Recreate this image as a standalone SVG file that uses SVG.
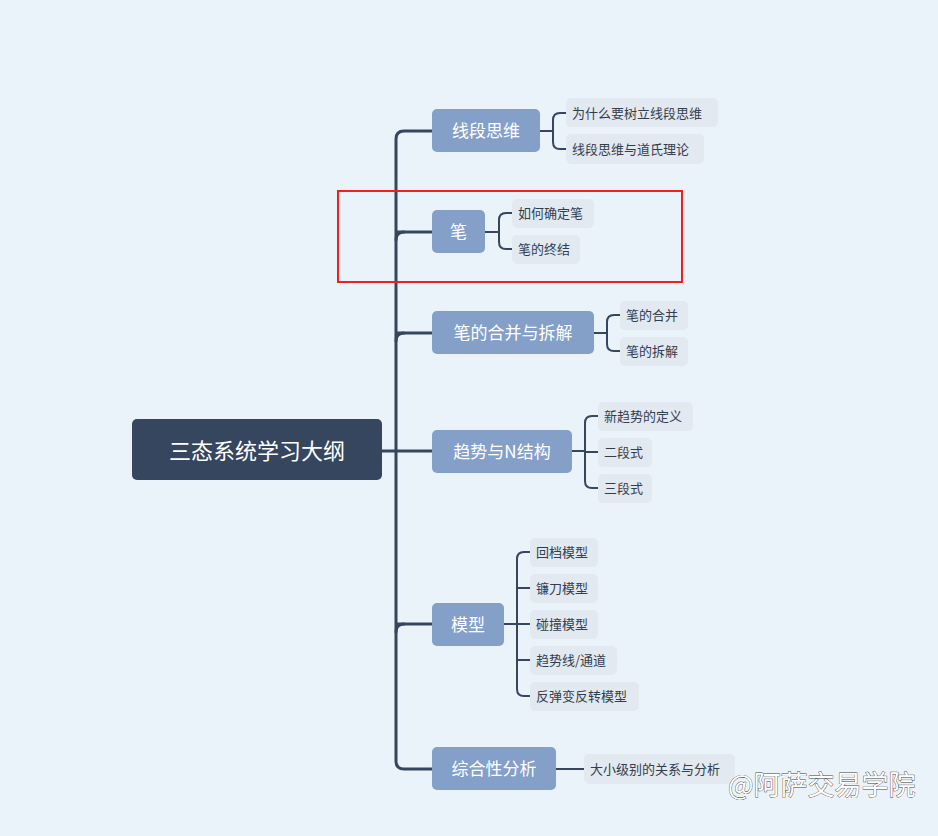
<svg xmlns="http://www.w3.org/2000/svg" width="938" height="836" viewBox="0 0 938 836">
<style>
.c{fill:none;stroke:#35465E;stroke-width:3;stroke-linecap:round}
.s{fill:none;stroke:#35465E;stroke-width:2;stroke-linecap:round}
.b{fill:#84A0C8}
.l{fill:#E2E9F1}
.bt{font-family:"Noto Sans CJK SC",sans-serif;font-size:17px;fill:#fff;text-anchor:middle;dominant-baseline:central}
.lt{font-family:"Noto Sans CJK SC",sans-serif;font-size:13px;fill:#333D4D;dominant-baseline:central}
</style>
<rect width="938" height="836" fill="#EBF3FA"/>
<g id="connectors">
<path class="c" d="M382 451H396M404 131Q396 131 396 139V761Q396 769 404 769H432M396 232H432M396 333H432M396 451H432M396 624H432M404 131H432" />
<path class="c" d="M396 240Q396 232 404 232M396 341Q396 333 404 333M396 632Q396 624 404 624"/>
<path class="s" d="M540 131H553M566 113H560Q553 113 553 120V142Q553 149 560 149H566"/>
<path class="s" d="M485 232H499M512 213H506Q499 213 499 220V242Q499 249 506 249H512"/>
<path class="s" d="M594 333H607M620 315H614Q607 315 607 322V344Q607 351 614 351H620"/>
<path class="s" d="M572 451H585M598 416H592Q585 416 585 423V481Q585 488 592 488H598M585 452H598"/>
<path class="s" d="M504 624H517M530 552H524Q517 552 517 559V689Q517 696 524 696H530M517 588H530M517 624H530M517 660H530"/>
<path class="s" d="M556 769H584"/>
</g>
<g id="root"><rect x="132" y="419" width="250" height="61" rx="5" fill="#35465E"/><text x="257" y="449" font-family="Noto Sans CJK SC,sans-serif" font-size="22" fill="#fff" text-anchor="middle" dominant-baseline="central">三态系统学习大纲</text></g>
<g id="b1"><rect class="b" x="432" y="109" width="108" height="43" rx="5"/><text class="bt" x="486" y="129">线段思维</text></g>
<g id="b2"><rect class="b" x="432" y="210" width="53" height="43" rx="5"/><text class="bt" x="458.5" y="230">笔</text></g>
<g id="b3"><rect class="b" x="432" y="311" width="162" height="43" rx="5"/><text class="bt" x="513" y="331">笔的合并与拆解</text></g>
<g id="b4"><rect class="b" x="432" y="430" width="140" height="43" rx="5"/><text class="bt" x="502" y="450">趋势与N结构</text></g>
<g id="b5"><rect class="b" x="432" y="603" width="72" height="43" rx="5"/><text class="bt" x="468" y="623">模型</text></g>
<g id="b6"><rect class="b" x="432" y="747" width="124" height="43" rx="5"/><text class="bt" x="494" y="767">综合性分析</text></g>
<g id="l1"><rect class="l" x="566" y="98" width="152" height="29" rx="5"/><text class="lt" x="572" y="112">为什么要树立线段思维</text></g>
<g id="l2"><rect class="l" x="566" y="134" width="138" height="30" rx="5"/><text class="lt" x="572" y="148">线段思维与道氏理论</text></g>
<g id="l3"><rect class="l" x="512" y="199" width="82" height="29" rx="5"/><text class="lt" x="518" y="212">如何确定笔</text></g>
<g id="l4"><rect class="l" x="512" y="235" width="68" height="29" rx="5"/><text class="lt" x="518" y="248">笔的终结</text></g>
<g id="l5"><rect class="l" x="620" y="301" width="68" height="29" rx="5"/><text class="lt" x="626" y="314">笔的合并</text></g>
<g id="l6"><rect class="l" x="620" y="337" width="68" height="29" rx="5"/><text class="lt" x="626" y="350">笔的拆解</text></g>
<g id="l7"><rect class="l" x="598" y="402" width="95" height="29" rx="5"/><text class="lt" x="604" y="415">新趋势的定义</text></g>
<g id="l8"><rect class="l" x="598" y="438" width="54" height="29" rx="5"/><text class="lt" x="604" y="451">二段式</text></g>
<g id="l9"><rect class="l" x="598" y="474" width="54" height="29" rx="5"/><text class="lt" x="604" y="487">三段式</text></g>
<g id="l10"><rect class="l" x="530" y="538" width="68" height="29" rx="5"/><text class="lt" x="536" y="551">回档模型</text></g>
<g id="l11"><rect class="l" x="530" y="574" width="68" height="29" rx="5"/><text class="lt" x="536" y="587">镰刀模型</text></g>
<g id="l12"><rect class="l" x="530" y="610" width="68" height="29" rx="5"/><text class="lt" x="536" y="623">碰撞模型</text></g>
<g id="l13"><rect class="l" x="530" y="646" width="87" height="29" rx="5"/><text class="lt" x="536" y="659">趋势线/通道</text></g>
<g id="l14"><rect class="l" x="530" y="682" width="109" height="29" rx="5"/><text class="lt" x="536" y="695">反弹变反转模型</text></g>
<g id="l15"><rect class="l" x="584" y="754" width="151" height="30" rx="5"/><text class="lt" x="590" y="768">大小级别的关系与分析</text></g>
<rect x="338" y="191" width="344" height="91" fill="none" stroke="#F2201A" stroke-width="2"/>
<text x="728" y="795" font-family="Noto Sans CJK SC,sans-serif" font-size="27" fill="#fff" stroke="#444" stroke-width="0.8" paint-order="stroke">@阿萨交易学院</text>
</svg>
